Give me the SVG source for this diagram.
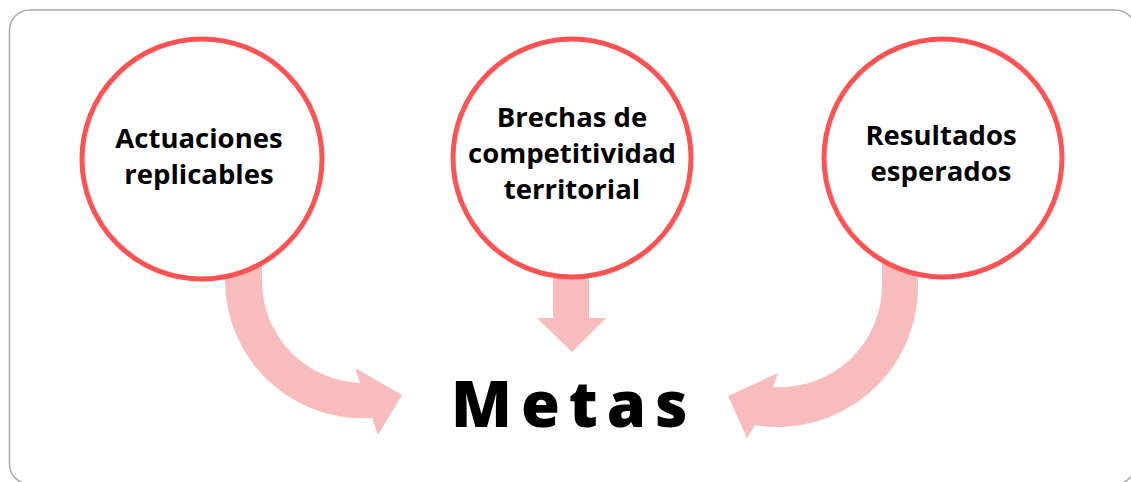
<svg xmlns="http://www.w3.org/2000/svg" width="1131" height="482" viewBox="0 0 1131 482">
<style>
.node circle{fill:#fff;stroke:#FF5252;stroke-width:5}
.lbl{font-family:"Open Sans","Liberation Sans",sans-serif;font-weight:700;font-size:27.5px;fill:#000;text-anchor:middle}
.arrow{fill:#F9BCBC}
</style>
<rect x="9.5" y="10" width="1126" height="474" rx="20" ry="20" fill="#fff" stroke="#ABABAB" stroke-width="1.5"/>
<g id="connectors">
<path class="arrow" d="M225,262 L225,280 A138,138 0 0 0 372,418 L378,435 L402,395 L355,368 L360,383 A102,102 0 0 1 262,280 L262,262 Z"/>
<polygon class="arrow" points="553,268 589,268 589,318 606,318 572,352 537,318 553,318"/>
<path class="arrow" d="M918,262 L918,285 A140,140 0 0 1 755,425 L747,438 L728,396 L778,373 L773,387 A102,102 0 0 0 882,285 L882,262 Z"/>
</g>
<g id="node-actuaciones" class="node">
<circle cx="202" cy="159" r="120"/>
<text class="lbl" x="199" y="148">Actuaciones</text>
<text class="lbl" x="199" y="184">replicables</text>
</g>
<g id="node-brechas" class="node">
<circle cx="572" cy="158" r="119"/>
<text class="lbl" x="572" y="127">Brechas de</text>
<text class="lbl" x="572" y="163">competitividad</text>
<text class="lbl" x="572" y="199">territorial</text>
</g>
<g id="node-resultados" class="node">
<circle cx="943" cy="158" r="119"/>
<text class="lbl" x="941" y="145">Resultados</text>
<text class="lbl" x="941" y="181">esperados</text>
</g>
<g id="node-metas">
<text x="451" y="427" font-family="'Open Sans','Liberation Sans',sans-serif" font-weight="800" font-size="63" letter-spacing="9" fill="#000">Metas</text>
</g>
</svg>
